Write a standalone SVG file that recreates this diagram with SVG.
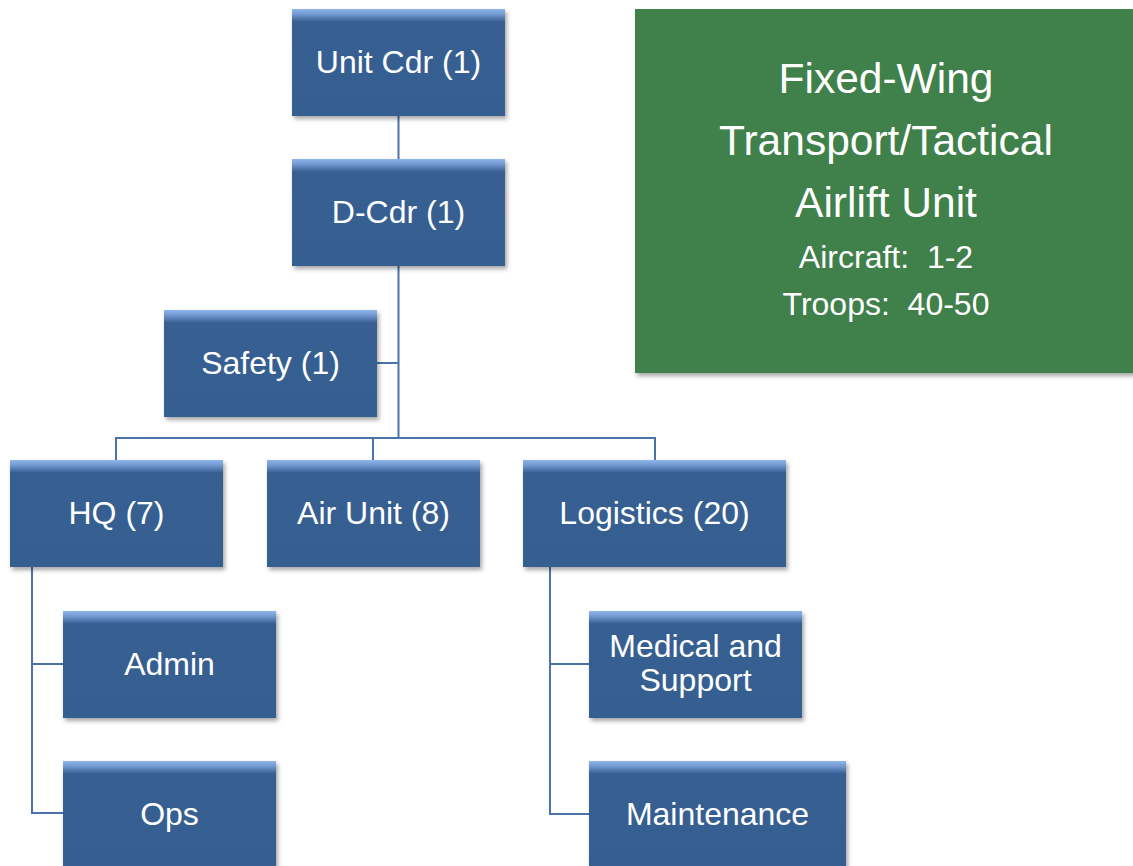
<svg xmlns="http://www.w3.org/2000/svg" width="1133" height="866" viewBox="0 0 1133 866">
<defs>
<linearGradient id="bx" x1="0" y1="0" x2="0" y2="1">
<stop offset="0" stop-color="#8fb6ec"/>
<stop offset="0.05" stop-color="#7198cf"/>
<stop offset="0.12" stop-color="#375f92"/>
<stop offset="1" stop-color="#365f91"/>
</linearGradient>
<filter id="sh" x="-10%" y="-10%" width="125%" height="130%">
<feDropShadow dx="2" dy="3" stdDeviation="2.2" flood-color="#000" flood-opacity="0.35"/>
</filter>
</defs>
<style>
.box{fill:url(#bx);filter:url(#sh)}
.t{font-family:"Liberation Sans",Arial,sans-serif;font-size:32px;fill:#fff;text-anchor:middle}
.c{fill:none;stroke:#4a73aa;stroke-width:2}
.g{font-family:"Liberation Sans",Arial,sans-serif;fill:#fff;text-anchor:middle}
</style>
<rect width="1133" height="866" fill="#fff"/>
<g id="connectors">
<path class="c" d="M398.5 116V159"/>
<path class="c" d="M398.5 266V438"/>
<path class="c" d="M377 363H398.5"/>
<path class="c" d="M116 460V438H655V460"/>
<path class="c" d="M373 438V460"/>
<path class="c" d="M32 567V813H63M32 664H63"/>
<path class="c" d="M550 567V814H589M550 664H589"/>
</g>
<g id="summary">
<rect x="635" y="9" width="500" height="364" fill="#41804b" filter="url(#sh)"/>
<text class="g" x="886" y="93" font-size="42.5">Fixed-Wing</text>
<text class="g" x="886" y="155" font-size="42.5">Transport/Tactical</text>
<text class="g" x="886" y="217" font-size="42.5">Airlift Unit</text>
<text class="g" x="886" y="268" font-size="32" xml:space="preserve">Aircraft:  1-2</text>
<text class="g" x="886" y="315" font-size="32" xml:space="preserve">Troops:  40-50</text>
</g>
<g id="unit-cdr"><rect class="box" x="292" y="9" width="213" height="107"/><text class="t" x="398.5" y="73">Unit Cdr (1)</text></g>
<g id="d-cdr"><rect class="box" x="292" y="159" width="213" height="107"/><text class="t" x="398.5" y="223">D-Cdr (1)</text></g>
<g id="safety"><rect class="box" x="164" y="310" width="213" height="107"/><text class="t" x="270.5" y="374">Safety (1)</text></g>
<g id="hq"><rect class="box" x="10" y="460" width="213" height="107"/><text class="t" x="116.5" y="524">HQ (7)</text></g>
<g id="air-unit"><rect class="box" x="267" y="460" width="213" height="107"/><text class="t" x="373.5" y="524">Air Unit (8)</text></g>
<g id="logistics"><rect class="box" x="523" y="460" width="263" height="107"/><text class="t" x="654.5" y="524">Logistics (20)</text></g>
<g id="admin"><rect class="box" x="63" y="611" width="213" height="107"/><text class="t" x="169.5" y="675">Admin</text></g>
<g id="ops"><rect class="box" x="63" y="761" width="213" height="107"/><text class="t" x="169.5" y="825">Ops</text></g>
<g id="medical"><rect class="box" x="589" y="611" width="213" height="107"/><text class="t" x="695.5" y="657">Medical and</text><text class="t" x="695.5" y="691">Support</text></g>
<g id="maintenance"><rect class="box" x="589" y="761" width="257" height="107"/><text class="t" x="717.5" y="825">Maintenance</text></g>
</svg>
